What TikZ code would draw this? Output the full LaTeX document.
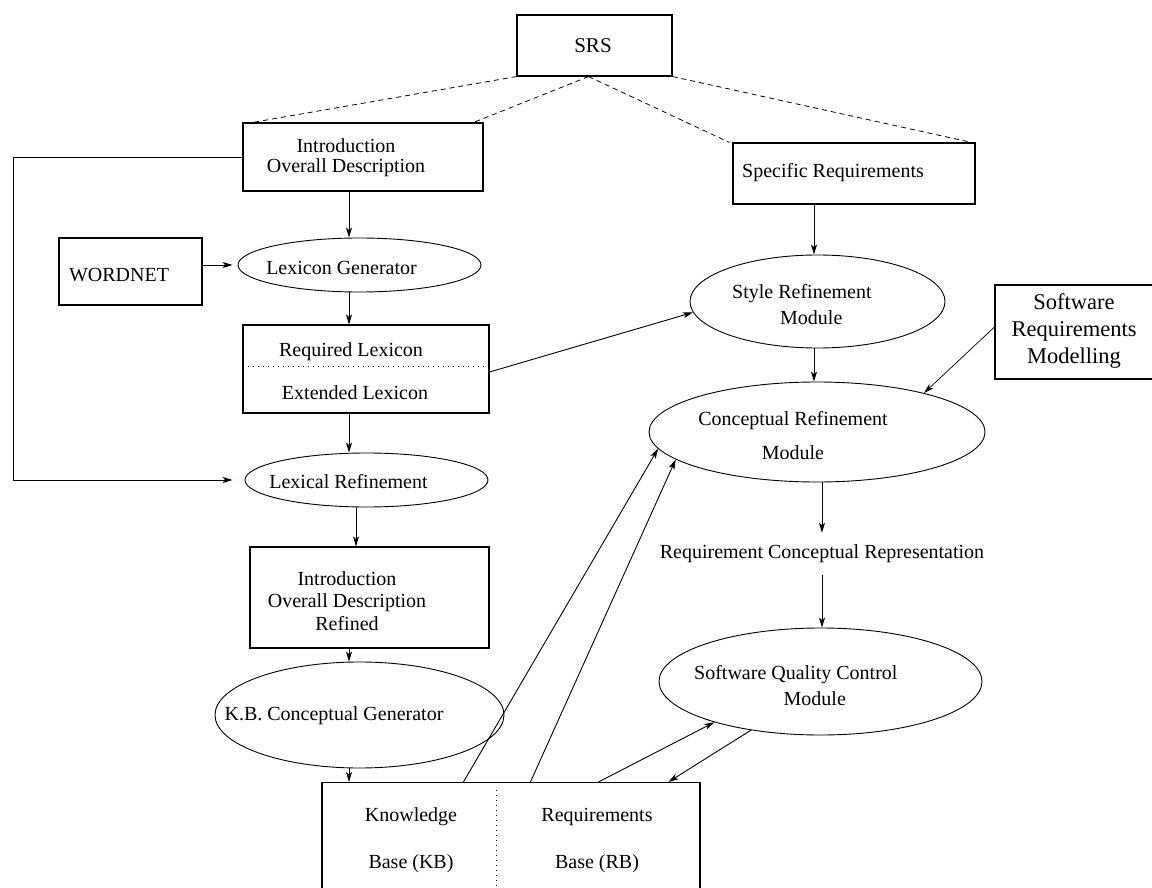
\documentclass[tikz,border=0pt]{standalone}
\usepackage{fontspec}
\setmainfont{Liberation Serif}
\usetikzlibrary{shapes.geometric,arrows.meta,calc}
\begin{document}
\begin{tikzpicture}[x=1pt,y=-1pt,
  box/.style={draw,line width=1.1pt,rectangle,inner sep=0pt},
  ell/.style={draw,line width=0.9pt,ellipse,inner sep=0pt},
  txt/.style={font=\fontsize{20}{24}\selectfont,inner sep=0pt,align=center},
  arr/.style={line width=0.9pt,-{Stealth[length=10pt,width=6pt,inset=2.5pt]}},
  dsh/.style={line width=0.8pt,dash pattern=on 5pt off 4pt},
  dotln/.style={line width=0.8pt,dash pattern=on 1pt off 4pt}]
\useasboundingbox (0,0) rectangle (1152,888);
\clip (0,0) rectangle (1152,888);

% nodes
\node[box,minimum width=155pt,minimum height=61pt] (srs) at (594.5,45.5) {};
\node[txt,font=\fontsize{21}{24}\selectfont] (srsT) at (593,46) {SRS};

\node[box,minimum width=240pt,minimum height=68pt] (intro) at (363,157) {};
\node[txt,font=\fontsize{20}{20}\selectfont] (introT) at (346,158) {Introduction\\Overall Description};

\node[box,minimum width=242pt,minimum height=61pt] (spec) at (854,173.5) {};
\node[txt] (specT) at (833,173) {Specific Requirements};

\node[box,minimum width=143pt,minimum height=67pt] (wn) at (130.5,271.5) {};
\node[txt] (wnT) at (119,275) {WORDNET};

\node[ell,minimum width=243pt,minimum height=54pt] (lexgen) at (359.5,265) {};
\node[txt] (lexgenT) at (341.5,268) {Lexicon Generator};

\node[box,minimum width=246pt,minimum height=88pt] (lexbox) at (366,369) {};
\node[txt] (reqT) at (351,352) {Required Lexicon};
\node[txt] (extT) at (355,393) {Extended Lexicon};
\draw[dotln] ($(lexbox.west)+(6,-3)$) -- ($(lexbox.east)+(0,-3)$);

\node[ell,minimum width=255pt,minimum height=93pt] (style) at (817.5,301.5) {};
\node[txt,align=left,anchor=west,font=\fontsize{20}{26}\selectfont] (styleT) at (732,305) {Style Refinement\\\hspace*{48pt}Module};

\node[box,minimum width=170pt,minimum height=94pt] (srm) at (1080,332) {};
\node[txt,font=\fontsize{22.5}{27}\selectfont] (srmT) at (1074,331) {Software\\Requirements\\Modelling};

\node[ell,minimum width=336pt,minimum height=100pt] (cr) at (817,432) {};
\node[txt,font=\fontsize{20}{34}\selectfont] (crT) at (793,436) {Conceptual Refinement\\Module};

\node[ell,minimum width=243pt,minimum height=54pt] (lexref) at (366.5,480) {};
\node[txt] (lexrefT) at (348.5,482) {Lexical Refinement};

\node[txt,inner ysep=12pt] (rcr) at (822,554) {Requirement Conceptual Representation};

\node[box,minimum width=239pt,minimum height=101pt] (refined) at (369.5,597.5) {};
\node[txt,font=\fontsize{20}{22.5}\selectfont] (refinedT) at (347,601) {Introduction\\Overall Description\\Refined};

\node[ell,minimum width=289pt,minimum height=106pt] (kbgen) at (359.5,715) {};
\node[txt] (kbgenT) at (334,716) {K.B. Conceptual Generator};

\node[ell,minimum width=323pt,minimum height=107pt] (sqc) at (820.5,681.5) {};
\node[txt,align=left,anchor=west,font=\fontsize{20}{26}\selectfont] (sqcT) at (694,686) {Software Quality Control\\\hspace*{89.5pt}Module};

\node[box,minimum width=378pt,minimum height=160pt] (kb) at (511,862.5) {};
\draw[dotln] ($(kb.north west)+(175,8)$) -- ($(kb.north west)+(175,120)$);
\node[txt,font=\fontsize{20}{47}\selectfont] (kbT) at (411,840.5) {Knowledge\\Base (KB)};
\node[txt,font=\fontsize{20}{47}\selectfont] (rbT) at (597,840.5) {Requirements\\Base (RB)};

% dashed decomposition lines
\draw[dsh] (srs.south west) -- ($(intro.north west)+(10,0)$);
\draw[dsh] ($(srs.south)+(-6,0)$) -- ($(intro.north east)+(-10,0)$);
\draw[dsh] ($(srs.south)+(-6,0)$) -- ($(spec.north west)+(-3,0)$);
\draw[dsh] (srs.south east) -- ($(spec.north east)+(-4,0)$);

% connectors
\coordinate (cA) at (349,0);
\coordinate (cB) at (356,0);
\coordinate (cF) at (13,0);
\coordinate (cS) at (814,0);
\draw[arr] (intro.south -| cA) -- (lexgen.north -| cA);
\draw[arr,shorten >=5pt] (wn.east |- lexgen.west) -- (lexgen.west);
\draw[arr] (lexgen.south -| cA) -- (lexbox.north -| cA);
\draw[arr] (lexbox.south -| cA) -- (lexref.north -| cA);
\draw[arr] (lexref.south -| cB) -- (refined.north -| cB);
\draw[arr] (refined.south -| cA) -- (kbgen.north -| cA);
\draw[arr] (kbgen.south -| cA) -- (kb.north -| cA);
\draw[arr,shorten >=12pt] (intro.west) -| (cF |- lexref.west) -- (lexref.west);
\draw[arr] ($(lexbox.east)+(0,3)$) -- (style.185);
\draw[arr] (spec.south -| cS) -- (style.north -| cS);
\draw[arr] (style.south -| cS) -- (cr.north -| cS);
\draw[arr,line width=0.7pt] ($(srm.west)+(0,-5)$) -- (cr.20);
\draw[arr] (rcr.north |- cr.south) -- (rcr.north);
\draw[arr] (rcr.south) -- (rcr.south |- sqc.north);
\draw[arr] ($(kb.north west)+(142,0)$) -- (cr.186);
\draw[arr] ($(kb.north west)+(209,0)$) -- (cr.191);
\draw[arr] ($(kb.north west)+(277,0)$) -- (sqc.201);
\draw[arr] (sqc.215) -- ($(kb.north west)+(347,0)$);
\end{tikzpicture}
\end{document}
